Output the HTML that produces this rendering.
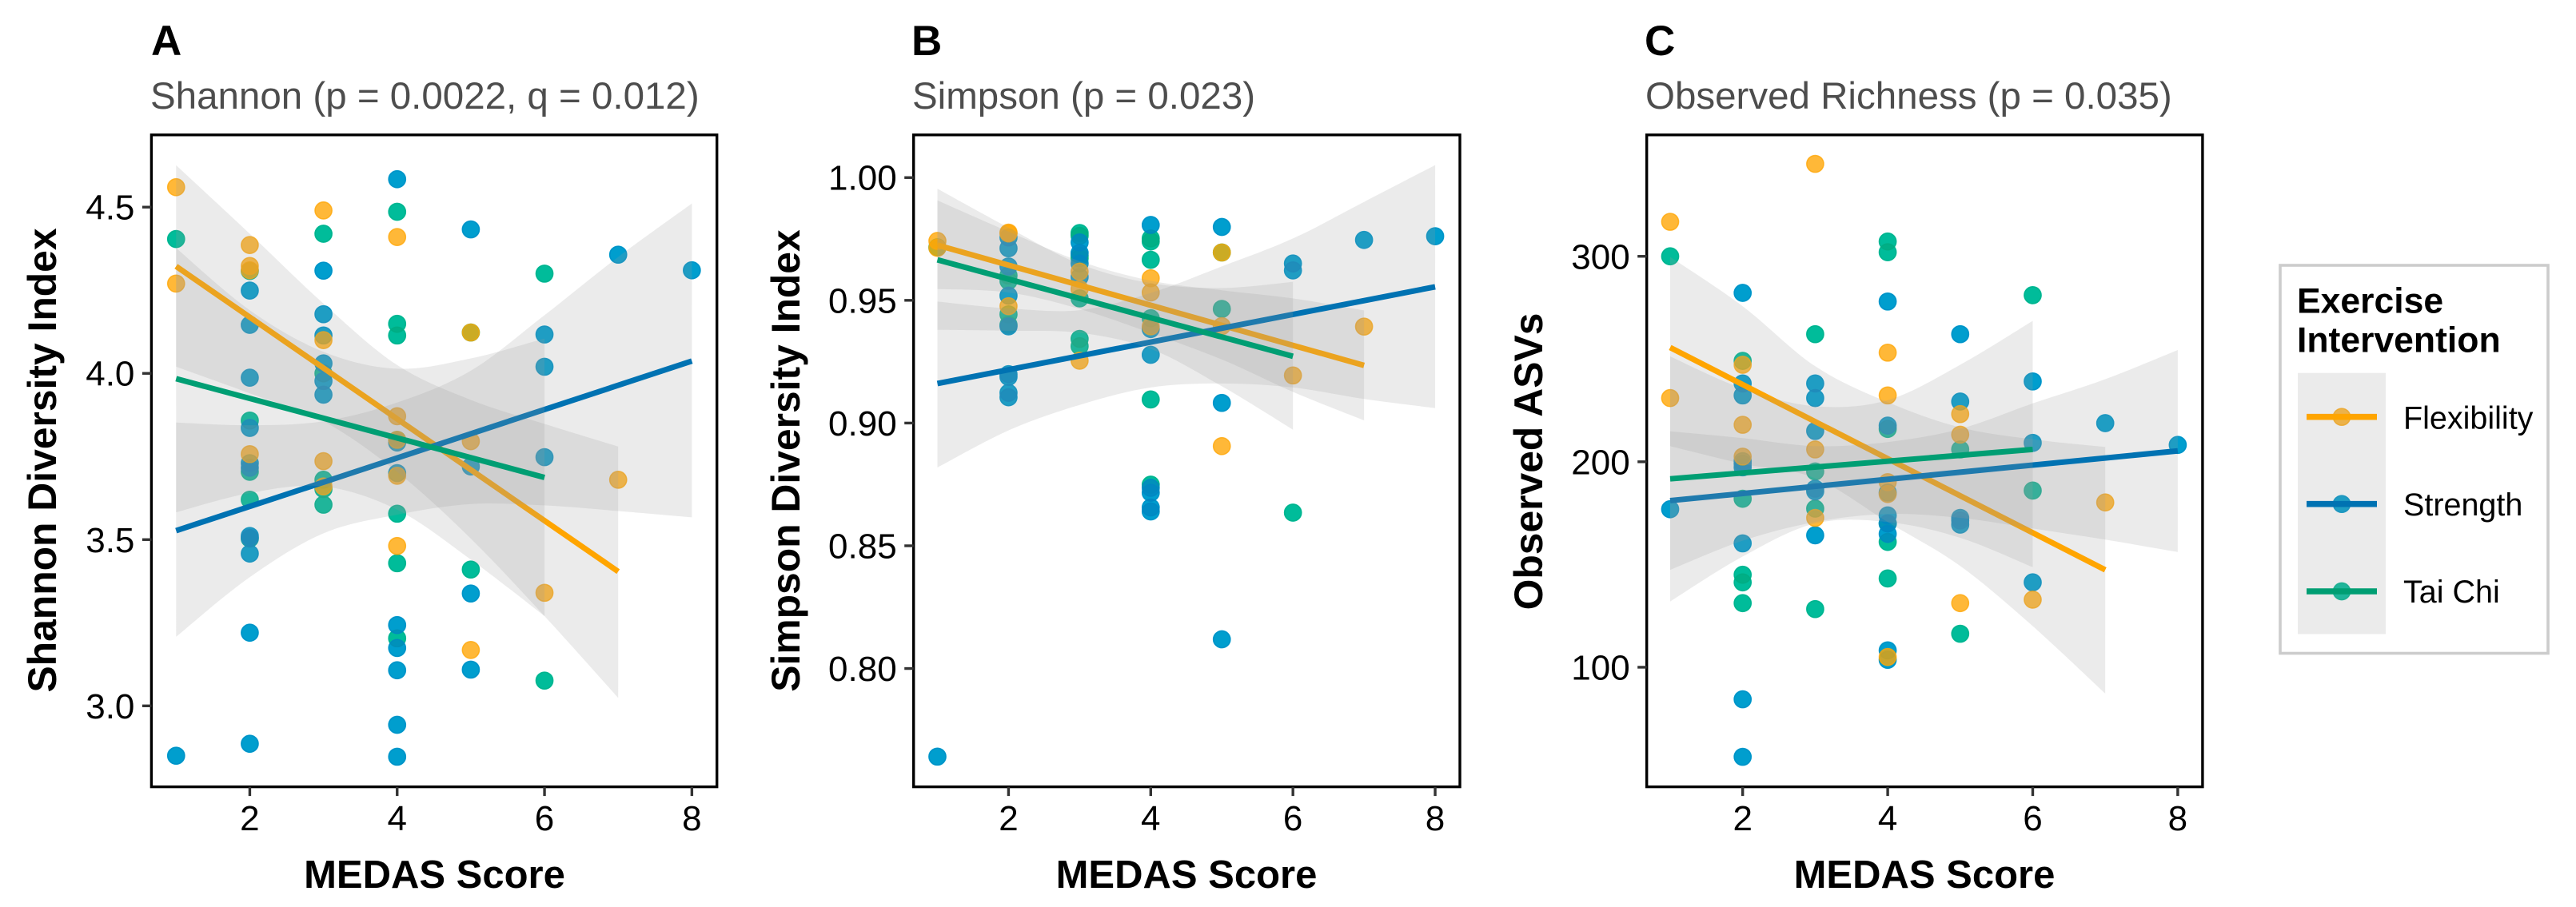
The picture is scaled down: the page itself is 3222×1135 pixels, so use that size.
<!DOCTYPE html>
<html lang="en">
<head>
<meta charset="utf-8">
<title>Alpha diversity by MEDAS score</title>
<style>
html,body{margin:0;padding:0;background:#fff;}
svg{display:block;font-family:"Liberation Sans",Arial,sans-serif;}
.tag{font-size:53px;font-weight:700;fill:#000;}
.sub{font-size:47.5px;fill:#4d4d4d;}
.axt{font-size:49px;font-weight:700;fill:#000;}
.ayt{font-size:49.8px;font-weight:700;fill:#000;}
.tick{font-size:44px;fill:#000;}
.lt{font-size:44.5px;font-weight:700;fill:#000;}
.li{font-size:39.5px;fill:#000;}
</style>
</head>
<body>
<svg xmlns="http://www.w3.org/2000/svg" width="3222" height="1135" viewBox="0 0 3222 1135">
  <defs>
    <filter id="pointTone" filterUnits="userSpaceOnUse" x="0" y="0" width="3222" height="1135" color-interpolation-filters="sRGB">
      <feComponentTransfer>
        <feFuncR type="linear" slope="1.25" intercept="-0.25"/>
      </feComponentTransfer>
    </filter>
  </defs>
  <rect width="3222" height="1135" fill="#fff"/>

  <g>
    <text class="tag" x="189" y="69">A</text>
    <text class="sub" x="188" y="136">Shannon (p = 0.0022, q = 0.012)</text>
    <g id="points-shannon" filter="url(#pointTone)"><rect x="189.4" y="168.8" width="707.3" height="815.8" fill="#fff"/></g>
    <g id="fits-shannon"></g>
    <rect x="189.4" y="168.8" width="707.3" height="815.8" fill="none" stroke="#000" stroke-width="3.4"/>
    <g id="axes-shannon"></g>
    <text class="axt" x="543.5" y="1111" text-anchor="middle">MEDAS Score</text>
    <text class="ayt" transform="translate(70 576) rotate(-90)" text-anchor="middle">Shannon Diversity Index</text>
  </g>

  <g>
    <text class="tag" x="1140" y="69">B</text>
    <text class="sub" x="1141" y="136">Simpson (p = 0.023)</text>
    <g id="points-simpson" filter="url(#pointTone)"><rect x="1142.7" y="168.8" width="683.3" height="815.8" fill="#fff"/></g>
    <g id="fits-simpson"></g>
    <rect x="1142.7" y="168.8" width="683.3" height="815.8" fill="none" stroke="#000" stroke-width="3.4"/>
    <g id="axes-simpson"></g>
    <text class="axt" x="1484" y="1111" text-anchor="middle">MEDAS Score</text>
    <text class="ayt" transform="translate(1000 576.5) rotate(-90)" text-anchor="middle">Simpson Diversity Index</text>
  </g>

  <g>
    <text class="tag" x="2057" y="69">C</text>
    <text class="sub" x="2058" y="136">Observed Richness (p = 0.035)</text>
    <g id="points-richness" filter="url(#pointTone)"><rect x="2059.7" y="168.8" width="695.2" height="815.8" fill="#fff"/></g>
    <g id="fits-richness"></g>
    <rect x="2059.7" y="168.8" width="695.2" height="815.8" fill="none" stroke="#000" stroke-width="3.4"/>
    <g id="axes-richness"></g>
    <text class="axt" x="2407" y="1111" text-anchor="middle">MEDAS Score</text>
    <text class="ayt" transform="translate(1929 577.5) rotate(-90)" text-anchor="middle">Observed ASVs</text>
  </g>

  <g>
    <rect x="2852" y="332" width="335" height="485.5" fill="#fff" stroke="#ccc" stroke-width="3.6"/>
    <text class="lt" x="2873" y="391.5">Exercise</text>
    <text class="lt" x="2873" y="440.5">Intervention</text>
    <g filter="url(#pointTone)">
      <rect x="2874" y="466.7" width="110" height="326.8" fill="#fff"/>
      <circle cx="2929" cy="521.7" r="10.6" fill="#FFA606" fill-opacity=".8" stroke="#FFA606" stroke-opacity=".8" stroke-width="1.5"/>
      <circle cx="2929" cy="630.7" r="10.6" fill="#0086C2" fill-opacity=".8" stroke="#0086C2" stroke-opacity=".8" stroke-width="1.5"/>
      <circle cx="2929" cy="740" r="10.6" fill="#00AB81" fill-opacity=".8" stroke="#00AB81" stroke-opacity=".8" stroke-width="1.5"/>
    </g>
    <rect x="2874" y="466.7" width="110" height="326.8" fill="#999" fill-opacity=".2"/>
    <line x1="2885" x2="2973" y1="521.7" y2="521.7" stroke="#FFA500" stroke-width="7.6"/>
    <line x1="2885" x2="2973" y1="630.7" y2="630.7" stroke="#0072B2" stroke-width="7.6"/>
    <line x1="2885" x2="2973" y1="740" y2="740" stroke="#009E73" stroke-width="7.6"/>
    <text class="li" x="3006" y="536.5">Flexibility</text>
    <text class="li" x="3006" y="645">Strength</text>
    <text class="li" x="3006" y="754">Tai Chi</text>
  </g>
</svg>

<script>
// ---------- shared tick values ----------
const xTickValues = [2, 4, 6, 8];
const xTickLabels = ['2', '4', '6', '8'];

// ---------- Panel A: Shannon ----------
const shannonTickValues = [3.0, 3.5, 4.0, 4.5];
const shannonTickLabels = ['3.0', '3.5', '4.0', '4.5'];

const shannonFlexX = [1, 1, 2, 2, 2, 2, 3, 3, 3, 3, 4, 4, 4, 4, 4, 5, 5, 5, 6, 7];
const shannonFlexY = [4.56, 4.27, 4.386, 4.323, 4.31, 3.757, 4.49, 4.10, 3.736, 3.66, 4.41, 3.871, 3.80, 3.692, 3.481, 4.123, 3.796, 3.168, 3.34, 3.68];
const shannonFlexLine = [4.322, 3.404];
const shannonFlexUpper = [4.626, 4.42, 4.21, 4.025, 3.92, 3.848, 3.78];
const shannonFlexLower = [4.02, 3.94, 3.856, 3.704, 3.503, 3.27, 3.024];

const shannonStrengthX = [1, 2, 2, 2, 2, 2, 2, 2, 2, 2, 2, 2, 3, 3, 3, 3, 3, 3, 4, 4, 4, 4, 4, 4, 4, 4, 5, 5, 5, 5, 6, 6, 6, 7, 8];
const shannonStrengthY = [2.85, 4.249, 4.146, 3.987, 3.836, 3.73, 3.716, 3.511, 3.505, 3.458, 3.22, 2.886, 4.309, 4.178, 4.114, 4.03, 3.977, 3.936, 4.584, 3.792, 3.70, 3.243, 3.174, 3.107, 2.943, 2.847, 4.433, 3.72, 3.338, 3.109, 4.117, 4.02, 3.748, 4.357, 4.31];
const shannonStrengthLine = [3.527, 4.037];
const shannonStrengthUpper = [3.852, 3.844, 3.856, 3.912, 4.008, 4.175, 4.35, 4.511];
const shannonStrengthLower = [3.208, 3.387, 3.519, 3.575, 3.607, 3.603, 3.586, 3.567];

const shannonTaiChiX = [1, 2, 2, 2, 2, 2, 3, 3, 3, 3, 3, 4, 4, 4, 4, 4, 4, 4, 5, 5, 6, 6];
const shannonTaiChiY = [4.404, 4.308, 3.858, 3.704, 3.62, 3.503, 4.42, 4.0, 3.68, 3.652, 3.605, 4.486, 4.149, 4.114, 3.80, 3.578, 3.429, 3.203, 4.123, 3.41, 4.30, 3.076];
const shannonTaiChiLine = [3.984, 3.687];
const shannonTaiChiUpper = [4.377, 4.19, 4.065, 4.014, 4.045, 4.105];
const shannonTaiChiLower = [3.582, 3.64, 3.66, 3.59, 3.44, 3.27];

// ---------- Panel B: Simpson ----------
const simpsonTickValues = [0.80, 0.85, 0.90, 0.95, 1.00];
const simpsonTickLabels = ['0.80', '0.85', '0.90', '0.95', '1.00'];

const simpsonFlexX = [1, 1, 2, 2, 2, 3, 3, 3, 4, 4, 4, 5, 5, 5, 6, 7];
const simpsonFlexY = [0.9742, 0.9714, 0.9776, 0.9772, 0.9476, 0.9617, 0.9546, 0.9254, 0.959, 0.9532, 0.9394, 0.9695, 0.9395, 0.8906, 0.9194, 0.9393];
const simpsonFlexLine = [0.9725, 0.9235];
const simpsonFlexUpper = [0.9907, 0.978, 0.966, 0.958, 0.9541, 0.9508, 0.9459];
const simpsonFlexLower = [0.9546, 0.9532, 0.9465, 0.9367, 0.9259, 0.9127, 0.9011];

const simpsonStrengthX = [1, 2, 2, 2, 2, 2, 2, 2, 2, 2, 3, 3, 3, 3, 4, 4, 4, 4, 4, 4, 4, 5, 5, 5, 6, 6, 7, 8];
const simpsonStrengthY = [0.7641, 0.9756, 0.9712, 0.9638, 0.9519, 0.9394, 0.9199, 0.9188, 0.9123, 0.9105, 0.9736, 0.9693, 0.965, 0.9595, 0.9807, 0.9383, 0.9278, 0.8736, 0.8716, 0.8656, 0.864, 0.9799, 0.9082, 0.8119, 0.965, 0.9622, 0.9746, 0.9761];
const simpsonStrengthLine = [0.9161, 0.9555];
const simpsonStrengthUpper = [0.9495, 0.9467, 0.946, 0.953, 0.9638, 0.9752, 0.9901, 1.0051];
const simpsonStrengthLower = [0.8819, 0.897, 0.9074, 0.9145, 0.9161, 0.9145, 0.9098, 0.9061];

const simpsonTaiChiX = [1, 2, 2, 2, 2, 3, 3, 3, 3, 3, 3, 3, 4, 4, 4, 4, 4, 4, 5, 5, 6];
const simpsonTaiChiY = [0.9716, 0.9601, 0.9579, 0.9443, 0.94, 0.9774, 0.9763, 0.9682, 0.9671, 0.9508, 0.9343, 0.9313, 0.9752, 0.974, 0.9665, 0.9427, 0.9096, 0.8749, 0.9695, 0.9465, 0.8635];
const simpsonTaiChiLine = [0.9665, 0.9272];
const simpsonTaiChiUpper = [0.9955, 0.9796, 0.9648, 0.957, 0.955, 0.9575];
const simpsonTaiChiLower = [0.938, 0.9376, 0.9368, 0.9302, 0.915, 0.8973];

// ---------- Panel C: Observed richness ----------
const richnessTickValues = [100, 200, 300];
const richnessTickLabels = ['100', '200', '300'];

const richnessFlexX = [1, 1, 2, 2, 2, 3, 3, 3, 4, 4, 4, 4, 4, 5, 5, 5, 6, 7];
const richnessFlexY = [316.8, 231, 247.2, 218, 202.5, 345, 206, 172.7, 253.1, 232.3, 190.1, 184.3, 105, 223.2, 213.2, 131.2, 132.9, 180.2];
const richnessFlexLine = [255.6, 147.4];
const richnessFlexUpper = [299.7, 275.7, 246.5, 229, 216.7, 210.9, 207.2];
const richnessFlexLower = [207.6, 199, 192, 170.7, 149.3, 120, 87.2];

const richnessStrengthX = [1, 2, 2, 2, 2, 2, 2, 2, 2, 2, 3, 3, 3, 3, 3, 3, 4, 4, 4, 4, 4, 4, 4, 4, 5, 5, 5, 5, 5, 6, 6, 6, 7, 8];
const richnessStrengthY = [176.9, 282.2, 238.1, 232.3, 200.3, 199, 197.3, 160.3, 84.4, 56.4, 238.1, 231, 215, 186.9, 185.6, 164.2, 278, 217.6, 185, 173.9, 170, 164.9, 108.2, 103.6, 262.1, 229.3, 172.7, 171.4, 169.4, 239.1, 209.2, 141.3, 218.8, 208.2];
const richnessStrengthLine = [181.1, 205.3];
const richnessStrengthUpper = [214.8, 211.5, 207.6, 209.6, 216, 228.4, 240.2, 254.4];
const richnessStrengthLower = [147.4, 161.6, 170.7, 174.6, 172.7, 167.5, 162.1, 156.1];

const richnessTaiChiX = [1, 2, 2, 2, 2, 2, 3, 3, 3, 3, 4, 4, 4, 4, 4, 4, 5, 5, 6, 6];
const richnessTaiChiY = [300, 249.1, 182, 145, 141.3, 131.2, 262.1, 195.3, 177.2, 128.3, 307.2, 302, 216, 170, 161, 143.2, 206, 116.3, 281.1, 186];
const richnessTaiChiLine = [191.7, 206];
const richnessTaiChiUpper = [251.3, 235.6, 227, 230, 247.2, 268.6];
const richnessTaiChiLower = [132, 153.9, 170, 170.7, 163, 148.7];

// ---------- rendering ----------
const NS = 'http://www.w3.org/2000/svg';
const pointColor = { flexibility: '#FFA606', strength: '#0086C2', taichi: '#00AB81' };
const lineColor = { flexibility: '#FFA500', strength: '#0072B2', taichi: '#009E73' };

function make(tag) { return document.createElementNS(NS, tag); }

function axisX(p) {
  return function (v) { return p.left + (v - p.xMin) / (p.xMax - p.xMin) * (p.right - p.left); };
}
function axisY(p) {
  return function (v) { return p.bottom - (v - p.yMin) / (p.yMax - p.yMin) * (p.bottom - p.top); };
}

function smoothSegments(pts) {
  let d = '';
  for (let i = 0; i < pts.length - 1; i++) {
    const p0 = pts[Math.max(i - 1, 0)], p1 = pts[i], p2 = pts[i + 1], p3 = pts[Math.min(i + 2, pts.length - 1)];
    const c1x = p1[0] + (p2[0] - p0[0]) / 6, c1y = p1[1] + (p2[1] - p0[1]) / 6;
    const c2x = p2[0] - (p3[0] - p1[0]) / 6, c2y = p2[1] - (p3[1] - p1[1]) / 6;
    d += 'C' + c1x.toFixed(1) + ' ' + c1y.toFixed(1) + ' ' + c2x.toFixed(1) + ' ' + c2y.toFixed(1) + ' ' + p2[0].toFixed(1) + ' ' + p2[1].toFixed(1);
  }
  return d;
}

function drawPoints(layer, kind, xs, ys, sx, sy) {
  xs.forEach(function (x, i) {
    const el = make('circle');
    
    
    el.setAttribute('class', 'point-' + kind);
    el.setAttribute('cx', sx(x));
    el.setAttribute('cy', sy(ys[i]));
    el.setAttribute('r', 10.6);
    el.setAttribute('fill', pointColor[kind]);
    el.setAttribute('fill-opacity', 0.8);
    el.setAttribute('stroke', pointColor[kind]);
    el.setAttribute('stroke-opacity', 0.8);
    el.setAttribute('stroke-width', 1.5);
    layer.appendChild(el);
  });
}

function drawFit(layer, kind, fit, upper, lower, sx, sy) {
  const up = upper.map(function (v, i) { return [sx(i + 1), sy(v)]; });
  const lo = lower.map(function (v, i) { return [sx(i + 1), sy(v)]; }).reverse();
  const ribbon = make('path');
  
  
  ribbon.setAttribute('d', 'M' + up[0][0] + ' ' + up[0][1] + smoothSegments(up) + 'L' + lo[0][0] + ' ' + lo[0][1] + smoothSegments(lo) + 'Z');
  ribbon.setAttribute('fill', '#999');
  ribbon.setAttribute('fill-opacity', 0.2);
  layer.appendChild(ribbon);

  const line = make('line');
  
  
  line.setAttribute('x1', sx(1));
  line.setAttribute('y1', sy(fit[0]));
  line.setAttribute('x2', sx(upper.length));
  line.setAttribute('y2', sy(fit[1]));
  line.setAttribute('stroke', lineColor[kind]);
  line.setAttribute('stroke-width', 7);
  layer.appendChild(line);
}

function drawAxes(layer, p, yValues, yLabels, sx, sy) {
  xTickValues.forEach(function (v, i) {
    const mark = make('line');
    
    
    mark.setAttribute('x1', sx(v));
    mark.setAttribute('x2', sx(v));
    mark.setAttribute('y1', p.bottom);
    mark.setAttribute('y2', p.bottom + 11.5);
    mark.setAttribute('stroke', '#333');
    mark.setAttribute('stroke-width', 3.4);
    layer.appendChild(mark);

    const label = make('text');
    
    
    label.setAttribute('class', 'tick');
    label.setAttribute('x', sx(v));
    label.setAttribute('y', 1039);
    label.setAttribute('text-anchor', 'middle');
    label.textContent = xTickLabels[i];
    layer.appendChild(label);
  });
  yValues.forEach(function (v, i) {
    const mark = make('line');
    
    
    mark.setAttribute('x1', p.left - 11.5);
    mark.setAttribute('x2', p.left);
    mark.setAttribute('y1', sy(v));
    mark.setAttribute('y2', sy(v));
    mark.setAttribute('stroke', '#333');
    mark.setAttribute('stroke-width', 3.4);
    layer.appendChild(mark);

    const label = make('text');
    
    
    label.setAttribute('class', 'tick');
    label.setAttribute('x', p.left - 21);
    label.setAttribute('y', sy(v) + 15.5);
    label.setAttribute('text-anchor', 'end');
    label.textContent = yLabels[i];
    layer.appendChild(label);
  });
}

function drawPanel(key, p, yValues, yLabels, flex, strength, taichi) {
  const sx = axisX(p), sy = axisY(p);
  const pointLayer = document.getElementById('points-' + key);
  const fitLayer = document.getElementById('fits-' + key);
  const axisLayer = document.getElementById('axes-' + key);
  drawPoints(pointLayer, 'taichi', taichi.x, taichi.y, sx, sy);
  drawPoints(pointLayer, 'strength', strength.x, strength.y, sx, sy);
  drawPoints(pointLayer, 'flexibility', flex.x, flex.y, sx, sy);
  drawFit(fitLayer, 'flexibility', flex.fit, flex.up, flex.lo, sx, sy);
  drawFit(fitLayer, 'strength', strength.fit, strength.up, strength.lo, sx, sy);
  drawFit(fitLayer, 'taichi', taichi.fit, taichi.up, taichi.lo, sx, sy);
  drawAxes(axisLayer, p, yValues, yLabels, sx, sy);
}

drawPanel('shannon',
  { left: 189.4, right: 896.7, top: 168.8, bottom: 984.6, xMin: 0.665, xMax: 8.34, yMin: 2.7565, yMax: 4.7173 },
  shannonTickValues, shannonTickLabels,
  { x: shannonFlexX, y: shannonFlexY, fit: shannonFlexLine, up: shannonFlexUpper, lo: shannonFlexLower },
  { x: shannonStrengthX, y: shannonStrengthY, fit: shannonStrengthLine, up: shannonStrengthUpper, lo: shannonStrengthLower },
  { x: shannonTaiChiX, y: shannonTaiChiY, fit: shannonTaiChiLine, up: shannonTaiChiUpper, lo: shannonTaiChiLower });

drawPanel('simpson',
  { left: 1142.7, right: 1826, top: 168.8, bottom: 984.6, xMin: 0.665, xMax: 8.348, yMin: 0.7518, yMax: 1.0174 },
  simpsonTickValues, simpsonTickLabels,
  { x: simpsonFlexX, y: simpsonFlexY, fit: simpsonFlexLine, up: simpsonFlexUpper, lo: simpsonFlexLower },
  { x: simpsonStrengthX, y: simpsonStrengthY, fit: simpsonStrengthLine, up: simpsonStrengthUpper, lo: simpsonStrengthLower },
  { x: simpsonTaiChiX, y: simpsonTaiChiY, fit: simpsonTaiChiLine, up: simpsonTaiChiUpper, lo: simpsonTaiChiLower });

drawPanel('richness',
  { left: 2059.7, right: 2754.9, top: 168.8, bottom: 984.6, xMin: 0.677, xMax: 8.342, yMin: 41.8, yMax: 359.1 },
  richnessTickValues, richnessTickLabels,
  { x: richnessFlexX, y: richnessFlexY, fit: richnessFlexLine, up: richnessFlexUpper, lo: richnessFlexLower },
  { x: richnessStrengthX, y: richnessStrengthY, fit: richnessStrengthLine, up: richnessStrengthUpper, lo: richnessStrengthLower },
  { x: richnessTaiChiX, y: richnessTaiChiY, fit: richnessTaiChiLine, up: richnessTaiChiUpper, lo: richnessTaiChiLower });
</script>
</body>
</html>
